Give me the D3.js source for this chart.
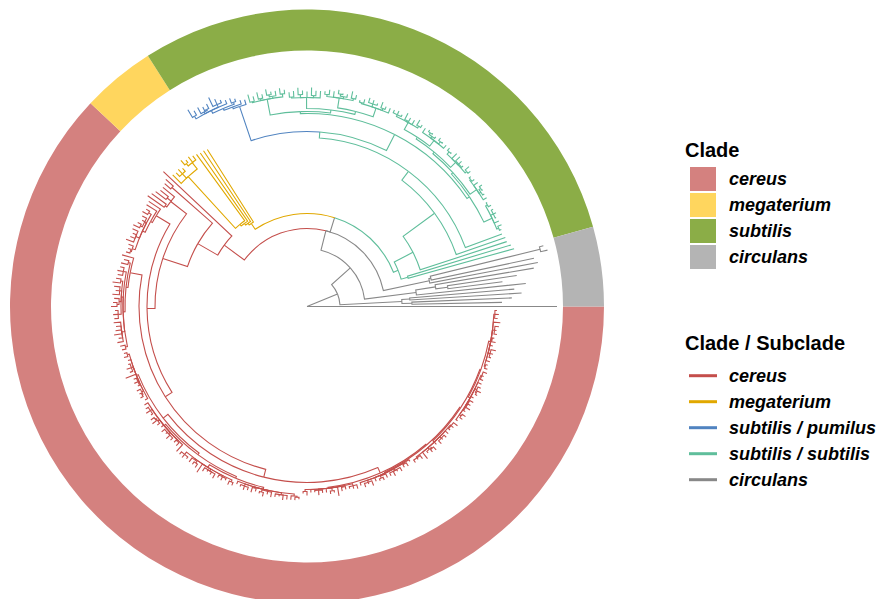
<!DOCTYPE html>
<html>
<head>
<meta charset="utf-8">
<script src="https://cdn.jsdelivr.net/npm/d3@7"></script>
<style>
  body { margin: 0; background: #ffffff; }
  text { font-family: "Liberation Sans", Arial, sans-serif; }
</style>
</head>
<body>
<svg id="chart" width="877" height="599"></svg>
<script>
// ---- categories -----------------------------------------------------------
const clades = ["cereus", "megaterium", "subtilis", "circulans"];
const cladeFills = ["#D4817F", "#FFD65E", "#8BAD47", "#B4B4B4"];

const subclades = ["cereus", "megaterium", "subtilis / pumilus", "subtilis / subtilis", "circulans"];
const subcladeColors = ["#C44E4B", "#E1A800", "#5083C0", "#5FBE9B", "#888888"];
const subcladeClade = ["cereus", "megaterium", "subtilis", "subtilis", "circulans"];

// ---- tree topology (Newick, branch lengths) --------------------------------
// Capitalised leaf names are grafted with the subtree of that name.
const backboneTree = "(:2.50,(CA:0.62,(CB:0.52,(CC:0.47,(S:0.05,M:0.07):0.15,C:0.25):0.20):0.25):0.33)";

const circulansA = "((:0.90,:1.00):0.10,(:1.12,:1.05):0.08)";
const circulansB = "(:1.10,((:0.55,:0.70):0.12,:1.00):0.20)";
const circulansC = "(:1.10,(:1.05,(:0.07,:0.04):1.13):0.02)";

const megateriumTree = "(:0.86,(:0.85,(:0.83,(:0.82,((:0.05,:0.07,(:0.03,:0.06):0.03):0.08,(:0.04,:0.06,:0.05):0.06,:0.12):0.70):0.02):0.02):0.02)";

const pumilusTree = "(:0.05,(:0.04,((:0.03,:0.05):0.02,(:0.04,(:0.03,:0.06,:0.10):0.03,((:0.05,:0.04):0.01,:0.07):0.02,(:0.05,:0.09):0.03):0.03):0.02):0.02)";

const subtilisClusters = [
  "((:0.02,:0.04):0.02,:0.05,(:0.01,:0.03,:0.02):0.03,(:0.03,:0.01):0.02)",
  "(:0.04,(:0.02,(:0.01,:0.03):0.02):0.02,:0.05,(:0.03,:0.02):0.01)",
  "((:0.03,:0.05):0.02,(:0.02,:0.04,:0.06):0.01,:0.07,(:0.01,:0.03):0.03)",
  "(:0.04,(:0.01,:0.03):0.03,(:0.02,(:0.01,:0.02):0.02):0.02,:0.05)",
  "((:0.03,:0.06):0.02,:0.05,(:0.04,:0.07):0.01,(:0.02,:0.04,:0.03):0.02)",
  "(:0.05,(:0.03,:0.06):0.02,(:0.02,:0.04,:0.05):0.03,(:0.04,:0.02):0.01)",
  "((:0.04,:0.07):0.02,(:0.03,(:0.01,:0.04):0.02):0.02,:0.06,(:0.05,:0.03):0.02)",
  "(:0.07,(:0.05,:0.08):0.02,:0.06,(:0.04,:0.07):0.03,(:0.06,:0.05):0.01)",
  "((:0.04,:0.06):0.03,(:0.05,(:0.03,:0.06):0.02):0.02,(:0.04,:0.07):0.02,(:0.05,:0.08):0.01)"
];
const sc = subtilisClusters;
const subtilisLow = `(${sc[0]}:0.09,(${sc[1]}:0.08,(${sc[2]}:0.07,(${sc[3]}:0.07,${sc[4]}:0.08):0.02):0.02):0.02)`;
const subtilisHigh = `(((${sc[5]}:0.09,${sc[6]}:0.10):0.03,${sc[7]}:0.11):0.03,${sc[8]}:0.16)`;
const subtilisTree = `((:1.10,:1.08):0.07,(:0.91,(:0.52,(:0.39,((${subtilisLow}:0.03,${subtilisHigh}:0.02):0.18,P:0.36):0.06):0.11):0.39):0.21)`;

const cereusD1 = "(:0.14,(:0.12,((:0.04,:0.06):0.03,(:0.05,:0.03,(:0.04,:0.07):0.02):0.02,(:0.06,:0.04,:0.05,:0.08):0.04,(:0.05,(:0.03,:0.04):0.01):0.03):0.03):0.02)";
const cereusD2 = "(:0.12,((:0.05,:0.07):0.02,((:0.04,:0.06,:0.05):0.03,((:0.05,:0.08):0.02,(:0.06,:0.04,:0.07):0.02,(:0.05,(:0.04,:0.06):0.02):0.02,(:0.03,:0.05,:0.04):0.03):0.02,(:0.07,:0.05,:0.06,:0.08,:0.04,:0.06):0.03,(:0.05,:0.04):0.02):0.02):0.02)";
const cereusClusters = [
  "((:0.03,:0.04):0.02,:0.03,(:0.02,:0.05,:0.03):0.02,:0.11,(:0.03,:0.04,:0.02):0.01,(:0.04,(:0.02,:0.03):0.01):0.02,:0.03)",
  "(:0.04,(:0.03,:0.05,:0.02):0.02,((:0.04,:0.05):0.01,:0.03):0.02,:0.03,(:0.04,:0.02,:0.05,:0.03):0.02,(:0.03,:0.04):0.01,:0.09)",
  "((:0.03,:0.04,:0.02):0.03,(:0.05,(:0.03,:0.04):0.02):0.01,:0.10,(:0.04,:0.02,:0.03,:0.05):0.02,(:0.03,:0.04,:0.02):0.01,(:0.04,:0.03):0.02)",
  "(:0.03,(:0.02,:0.04,:0.03):0.02,(:0.05,:0.03):0.01,((:0.02,:0.04):0.02,:0.03,:0.05):0.01,(:0.03,:0.02,:0.05,:0.04):0.02,(:0.04,(:0.03,:0.02):0.01):0.02)",
  "((:0.02,:0.04):0.02,:0.03,(:0.02,:0.05,:0.03):0.01,:0.04,(:0.03,:0.02):0.03,:0.09,(:0.04,:0.03):0.01,(:0.02,:0.03,:0.04):0.02)",
  "(:0.03,(:0.04,:0.02,:0.05):0.02,:0.04,((:0.02,:0.03):0.02,:0.04):0.01,(:0.03,:0.05,:0.02,:0.04):0.02,(:0.03,:0.04):0.01,:0.02)",
  "((:0.03,:0.02,:0.04):0.01,:0.08,(:0.02,(:0.03,:0.04):0.01):0.02,:0.03,(:0.04,:0.02,:0.03):0.02,:0.04,(:0.02,:0.03,:0.05):0.01)",
  "(:0.02,(:0.03,:0.04):0.02,(:0.02,:0.05,:0.03,:0.04):0.01,:0.03,((:0.02,:0.04):0.01,:0.03):0.02,:0.04,(:0.03,:0.02,:0.04):0.01)",
  "((:0.03,:0.02):0.01,:0.04,(:0.02,:0.03,:0.05):0.02,:0.03,(:0.04,:0.02):0.01,(:0.03,:0.02,:0.04):0.02,:0.07,(:0.03,:0.04,:0.02):0.01)"
];
const cc = cereusClusters;
const cereusD3 = `(${cc[0]}:0.02,(${cc[1]}:0.02,(${cc[2]}:0.03,${cc[3]}:0.02):0.02):0.02)`;
const cereusD4 = `(${cc[4]}:0.01,(${cc[5]}:0.01,(${cc[6]}:0.02,(${cc[7]}:0.02,${cc[8]}:0.02):0.01):0.01):0.01)`;
const cereusTree = `(:0.94,((:0.10,:0.08):0.54,((:0.15,(:0.10,:0.13):0.05,(:0.18,:0.20):0.02):0.20,(${cereusD1}:0.16,(${cereusD2}:0.12,(${cereusD3}:0.06,${cereusD4}:0.06):0.08):0.08):0.08):0.26):0.23)`;

const grafts = {
  CA: [circulansA, "circulans"],
  CB: [circulansB, "circulans"],
  CC: [circulansC, "circulans"],
  S:  [subtilisTree, "subtilis / subtilis"],
  P:  [pumilusTree, "subtilis / pumilus"],
  M:  [megateriumTree, "megaterium"],
  C:  [cereusTree, "cereus"]
};

// ---- Newick parsing --------------------------------------------------------
function parseNewick(s) {
  let i = 0;
  function node() {
    const n = { children: [], length: 0, name: "" };
    if (s[i] === "(") {
      i++;
      n.children.push(node());
      while (s[i] === ",") { i++; n.children.push(node()); }
      i++; // closing paren
    }
    let name = "";
    while (i < s.length && !":,()".includes(s[i])) name += s[i++];
    n.name = name.trim();
    if (s[i] === ":") {
      i++;
      let num = "";
      while (i < s.length && !",()".includes(s[i])) num += s[i++];
      n.length = +num;
    }
    return n;
  }
  return node();
}

function build(newick, group) {
  const root = parseNewick(newick);
  (function walk(n) {
    n.group = group;
    n.children.forEach((c, k) => {
      if (!c.children.length && grafts[c.name]) {
        const [nw, g] = grafts[c.name];
        const sub = build(nw, g);
        sub.length = c.length;
        n.children[k] = sub;
      } else {
        walk(c);
      }
    });
  })(root);
  return root;
}

const treeData = build(backboneTree, "circulans");
const root = d3.hierarchy(treeData, d => d.children.length ? d.children : null);

// ---- layout (circular, counter-clockwise from 3 o'clock) -------------------
const cx = 307, cy = 306.5;
const ringInner = 256, ringOuter = 297;

root.eachBefore(n => { n.dist = n.parent ? n.parent.dist + n.data.length : 0; });
const leaves = root.leaves();
const nTips = leaves.length;
leaves.forEach((l, i) => { l.pos = i; });
root.eachAfter(n => { if (n.children) n.pos = d3.mean(n.children, c => c.pos); });

const rScale = d3.scaleLinear().domain([0, 2.5]).range([0, 250]);
const aScale = d3.scaleLinear().domain([0, nTips]).range([0, 2 * Math.PI]);

const svg = d3.select("#chart");

// ---- clade ring ------------------------------------------------------------
const ringData = clades.map((c, k) => {
  const idx = leaves.filter(l => subcladeClade[subclades.indexOf(l.data.group)] === c).map(l => l.pos);
  return { clade: c, fill: cladeFills[k], from: d3.min(idx), to: d3.max(idx) + 1 };
});
const ringArc = d3.arc().innerRadius(ringInner).outerRadius(ringOuter)
  .startAngle(d => Math.PI / 2 - aScale(d.to))
  .endAngle(d => Math.PI / 2 - aScale(d.from));
svg.append("g").attr("transform", `translate(${cx},${cy})`)
  .selectAll("path").data(ringData).join("path")
  .attr("d", ringArc).attr("fill", d => d.fill);

// ---- branches --------------------------------------------------------------
const colorOf = d3.scaleOrdinal().domain(subclades).range(subcladeColors);
function edgePath(n) {
  const p = n.parent;
  const rp = rScale(p.dist), rn = rScale(n.dist);
  const tp = aScale(p.pos), tn = aScale(n.pos);
  const path = d3.path();
  if (rp > 0) {
    path.moveTo(cx + rp * Math.cos(tp), cy - rp * Math.sin(tp));
    path.arc(cx, cy, rp, -tp, -tn, tn > tp);
  } else {
    path.moveTo(cx, cy);
  }
  path.lineTo(cx + rn * Math.cos(tn), cy - rn * Math.sin(tn));
  return path.toString();
}
svg.append("g")
  .attr("fill", "none")
  .attr("stroke-width", 1.1)
  .selectAll("path").data(root.descendants().slice(1)).join("path")
  .attr("d", edgePath)
  .attr("stroke", d => colorOf(d.data.group));

// ---- legends ---------------------------------------------------------------
const lg = svg.append("g");
lg.append("text").attr("x", 685).attr("y", 157)
  .attr("font-size", 20).attr("font-weight", "bold").attr("fill", "#000").text("Clade");
const cRows = lg.selectAll("g.crow").data(clades).join("g").attr("class", "crow")
  .attr("transform", (d, i) => `translate(0,${167 + i * 26})`);
cRows.append("rect").attr("x", 690).attr("y", 0).attr("width", 26).attr("height", 24)
  .attr("fill", (d, i) => cladeFills[i]);
cRows.append("text").attr("x", 729).attr("y", 17.5)
  .attr("font-size", 18).attr("font-weight", "bold").attr("font-style", "italic")
  .attr("fill", "#000").text(d => d);

lg.append("text").attr("x", 685).attr("y", 350)
  .attr("font-size", 20).attr("font-weight", "bold").attr("fill", "#000").text("Clade / Subclade");
const sRows = lg.selectAll("g.srow").data(subclades).join("g").attr("class", "srow")
  .attr("transform", (d, i) => `translate(0,${375.7 + i * 26})`);
sRows.append("line").attr("x1", 689).attr("x2", 717).attr("y1", 0).attr("y2", 0)
  .attr("stroke", (d, i) => subcladeColors[i]).attr("stroke-width", 3);
sRows.append("text").attr("x", 729).attr("y", 6)
  .attr("font-size", 18).attr("font-weight", "bold").attr("font-style", "italic")
  .attr("fill", "#000").text(d => d);
</script>
</body>
</html>
